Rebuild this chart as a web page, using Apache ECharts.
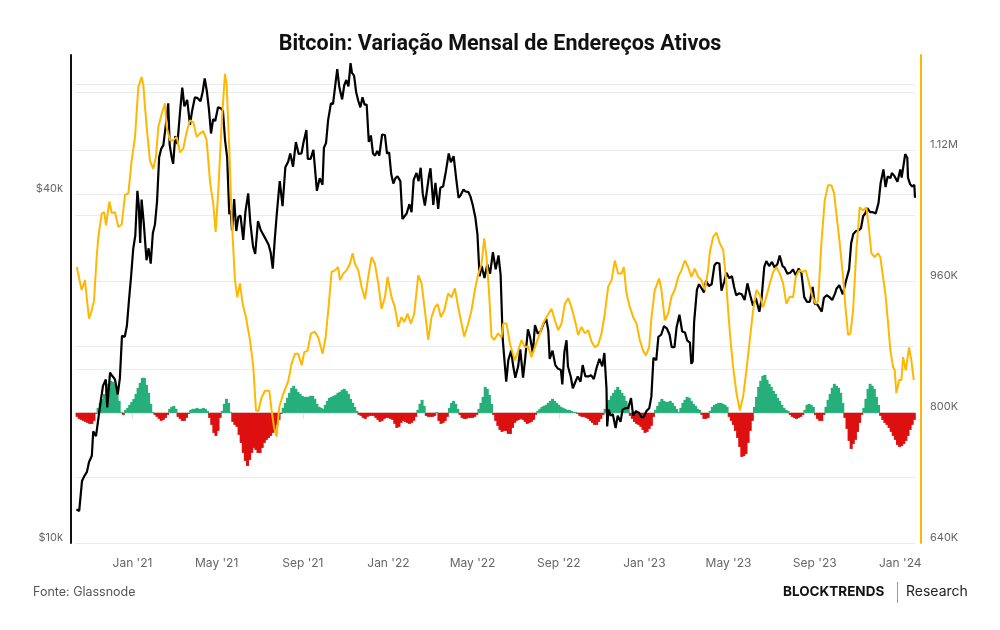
<!DOCTYPE html>
<html>
<head>
<meta charset="utf-8">
<script src="https://cdn.jsdelivr.net/npm/echarts@6/dist/echarts.min.js"></script>
<style>
  html, body { margin: 0; background: #fff; }
  #chart-container { width: 1000px; height: 630px; }
</style>
</head>
<body>
<div id="chart-container"></div>
<script>
// BTC price (USD), [date, price]
var btcPrice = [
  ['2020-10-13',11430],['2020-10-17',11360],['2020-10-21',12800],['2020-10-24',13030],['2020-10-28',13270],
  ['2020-10-31',13800],['2020-11-04',14150],['2020-11-06',15590],['2020-11-10',15300],['2020-11-13',16300],
  ['2020-11-17',17700],['2020-11-20',18700],['2020-11-24',19160],['2020-11-26',17150],['2020-11-30',19700],
  ['2020-12-03',19450],['2020-12-07',19170],['2020-12-11',18060],['2020-12-14',19270],['2020-12-17',22800],
  ['2020-12-21',22720],['2020-12-24',23730],['2020-12-27',26280],['2020-12-30',28900],['2021-01-02',32200],
  ['2021-01-05',33990],['2021-01-08',40600],['2021-01-10',38300],['2021-01-12',33000],['2021-01-14',39200],
  ['2021-01-17',35800],['2021-01-21',30800],['2021-01-24',32300],['2021-01-27',30400],['2021-01-30',34300],
  ['2021-02-02',35500],['2021-02-05',38900],['2021-02-08',46400],['2021-02-11',48000],['2021-02-14',48700],
  ['2021-02-17',52100],['2021-02-21',57500],['2021-02-23',48800],['2021-02-26',46300],['2021-02-28',45200],
  ['2021-03-03',50500],['2021-03-06',48900],['2021-03-10',55900],['2021-03-13',61200],['2021-03-16',56800],
  ['2021-03-20',58300],['2021-03-24',52800],['2021-03-27',55800],['2021-03-31',58900],['2021-04-04',58700],
  ['2021-04-08',58000],['2021-04-11',60100],['2021-04-14',63500],['2021-04-17',60400],['2021-04-20',56200],
  ['2021-04-23',51000],['2021-04-26',54000],['2021-04-29',53600],['2021-05-03',56600],['2021-05-07',56400],
  ['2021-05-10',55800],['2021-05-13',49700],['2021-05-16',46400],['2021-05-19',37000],['2021-05-21',37500],
  ['2021-05-23',34700],['2021-05-26',39300],['2021-05-29',34600],['2021-06-01',36600],['2021-06-04',36800],
  ['2021-06-08',33400],['2021-06-11',37300],['2021-06-15',40200],['2021-06-18',35800],['2021-06-22',32500],
  ['2021-06-25',31600],['2021-06-29',36000],['2021-07-03',34700],['2021-07-06',34200],['2021-07-10',33500],
  ['2021-07-14',32800],['2021-07-17',31800],['2021-07-20',29800],['2021-07-23',33600],['2021-07-26',37300],
  ['2021-07-30',42200],['2021-08-03',38200],['2021-08-07',44600],['2021-08-11',45600],['2021-08-14',47100],
  ['2021-08-18',44700],['2021-08-22',49300],['2021-08-26',47000],['2021-08-30',47100],['2021-09-02',49300],
  ['2021-09-06',51700],['2021-09-08',46100],['2021-09-12',46100],['2021-09-16',47800],['2021-09-21',40600],
  ['2021-09-25',42700],['2021-09-29',41600],['2021-10-01',48200],['2021-10-04',49100],['2021-10-07',53800],
  ['2021-10-11',57500],['2021-10-14',57400],['2021-10-17',61500],['2021-10-20',65900],['2021-10-23',61300],
  ['2021-10-27',58400],['2021-10-30',61800],['2021-11-02',63100],['2021-11-05',61500],['2021-11-08',67500],
  ['2021-11-10',64900],['2021-11-13',64200],['2021-11-16',60100],['2021-11-19',58100],['2021-11-22',56600],
  ['2021-11-25',58900],['2021-11-28',57200],['2021-12-01',57200],['2021-12-04',49300],['2021-12-07',50600],
  ['2021-12-10',47100],['2021-12-13',46700],['2021-12-16',47600],['2021-12-19',46700],['2021-12-23',50800],
  ['2021-12-27',50700],['2021-12-30',47100],['2022-01-02',47300],['2022-01-05',43400],['2022-01-08',41800],
  ['2022-01-11',42700],['2022-01-14',43000],['2022-01-18',42200],['2022-01-21',36300],['2022-01-24',36700],
  ['2022-01-27',37100],['2022-01-31',38500],['2022-02-03',37300],['2022-02-06',42400],['2022-02-10',43600],
  ['2022-02-13',42200],['2022-02-16',44500],['2022-02-19',40100],['2022-02-22',38300],['2022-02-24',38300],
  ['2022-02-28',43200],['2022-03-02',44400],['2022-03-06',38400],['2022-03-09',41900],['2022-03-13',37800],
  ['2022-03-16',41100],['2022-03-20',41300],['2022-03-24',43900],['2022-03-28',47100],['2022-03-31',45500],
  ['2022-04-04',46600],['2022-04-08',42300],['2022-04-11',39500],['2022-04-14',39900],['2022-04-18',40800],
  ['2022-04-21',40500],['2022-04-25',40400],['2022-04-28',39700],['2022-05-01',38500],['2022-05-05',36500],
  ['2022-05-08',34100],['2022-05-11',28900],['2022-05-14',30100],['2022-05-18',28700],['2022-05-22',30300],
  ['2022-05-26',29200],['2022-05-30',31800],['2022-06-03',29700],['2022-06-07',31400],['2022-06-10',29100],
  ['2022-06-13',22500],['2022-06-15',22600],['2022-06-18',19000],['2022-06-21',20700],['2022-06-25',21500],
  ['2022-06-28',20200],['2022-07-01',19300],['2022-07-05',20200],['2022-07-08',21600],['2022-07-12',19300],
  ['2022-07-15',20800],['2022-07-19',23400],['2022-07-22',22700],['2022-07-26',21300],['2022-07-29',23800],
  ['2022-08-02',23000],['2022-08-06',23200],['2022-08-10',23900],['2022-08-14',24400],['2022-08-17',23300],
  ['2022-08-19',20800],['2022-08-23',21500],['2022-08-27',20300],['2022-08-31',20000],['2022-09-04',19900],
  ['2022-09-06',18800],['2022-09-09',21400],['2022-09-12',22400],['2022-09-14',20200],['2022-09-18',19400],
  ['2022-09-21',18500],['2022-09-24',18900],['2022-09-28',19400],['2022-10-02',19000],['2022-10-05',20300],
  ['2022-10-09',19400],['2022-10-13',19400],['2022-10-17',19500],['2022-10-21',19200],['2022-10-25',20100],
  ['2022-10-29',20800],['2022-11-02',20200],['2022-11-05',21300],['2022-11-08',18500],['2022-11-09',15900],
  ['2022-11-11',17000],['2022-11-14',16600],['2022-11-17',16700],['2022-11-21',15800],['2022-11-24',16600],
  ['2022-11-28',16200],['2022-12-01',17000],['2022-12-05',17100],['2022-12-09',17100],['2022-12-13',17800],
  ['2022-12-16',16600],['2022-12-20',16900],['2022-12-24',16800],['2022-12-28',16500],['2022-12-31',16500],
  ['2023-01-04',16900],['2023-01-08',17100],['2023-01-11',17900],['2023-01-14',20900],['2023-01-18',20700],
  ['2023-01-21',22700],['2023-01-25',22900],['2023-01-29',23700],['2023-02-02',23500],['2023-02-06',22900],
  ['2023-02-09',21800],['2023-02-13',21800],['2023-02-16',23600],['2023-02-20',24800],['2023-02-24',23200],
  ['2023-02-28',23100],['2023-03-03',22400],['2023-03-07',22200],['2023-03-09',20400],['2023-03-11',20600],
  ['2023-03-13',24100],['2023-03-17',27400],['2023-03-20',28000],['2023-03-24',27500],['2023-03-27',27100],
  ['2023-03-30',28400],['2023-04-03',27800],['2023-04-07',28000],['2023-04-11',30200],['2023-04-14',30500],
  ['2023-04-18',30400],['2023-04-21',27300],['2023-04-25',28300],['2023-04-28',29300],['2023-05-02',28700],
  ['2023-05-06',28900],['2023-05-09',27700],['2023-05-12',26800],['2023-05-16',27000],['2023-05-20',26900],
  ['2023-05-24',26300],['2023-05-28',28100],['2023-06-01',26800],['2023-06-05',25700],['2023-06-09',26500],
  ['2023-06-14',25100],['2023-06-17',26300],['2023-06-21',30000],['2023-06-24',30700],['2023-06-28',30100],
  ['2023-07-02',30600],['2023-07-06',29900],['2023-07-10',30400],['2023-07-13',31400],['2023-07-17',30100],
  ['2023-07-20',29900],['2023-07-24',29200],['2023-07-28',29300],['2023-08-01',29700],['2023-08-05',29000],
  ['2023-08-09',29800],['2023-08-13',29300],['2023-08-17',26600],['2023-08-21',26100],['2023-08-25',26100],
  ['2023-08-29',27700],['2023-09-01',25900],['2023-09-05',25800],['2023-09-11',25100],['2023-09-14',26500],
  ['2023-09-18',26800],['2023-09-22',26600],['2023-09-26',26300],['2023-09-30',27000],['2023-10-02',27500],
  ['2023-10-06',27900],['2023-10-11',26900],['2023-10-16',28500],['2023-10-20',29700],['2023-10-23',33000],
  ['2023-10-26',34200],['2023-10-30',34600],['2023-11-03',34700],['2023-11-06',35000],['2023-11-09',36700],
  ['2023-11-12',37100],['2023-11-15',37900],['2023-11-19',37300],['2023-11-23',37300],['2023-11-27',37100],
  ['2023-12-01',38700],['2023-12-04',41900],['2023-12-08',44200],['2023-12-11',41200],['2023-12-14',43000],
  ['2023-12-18',42700],['2023-12-20',43600],['2023-12-24',43000],['2023-12-28',42100],['2024-01-01',44200],
  ['2024-01-03',42800],['2024-01-08',47000],['2024-01-11',46300],['2024-01-12',42800],['2024-01-15',41700],
  ['2024-01-18',41300],['2024-01-21',41600],['2024-01-22',39500]
];

// active addresses (thousands), [days since 2021-01-01, value]
var activeAddr = [
  [-79.6,977],[-77.2,968],[-72.5,949],[-67.7,961],[-65.3,940],[-62.0,914],[-58.2,924],[-54.9,936],[-51.1,989],
  [-48.7,1014],[-44.0,1042],[-40.2,1044],[-37.8,1028],[-33.0,1057],[-29.7,1043],[-24.9,1044],[-20.2,1026],
  [-15.4,1029],[-10.7,1065],[-5.9,1067],[-1.2,1107],[3.6,1136],[8.3,1197],[13.1,1209],[15.4,1200],[17.8,1173],
  [21.1,1140],[24.9,1107],[29.7,1097],[33.5,1112],[36.8,1148],[41.6,1164],[46.3,1177],[48.7,1148],[53.5,1132],
  [58.2,1132],[63.0,1136],[67.7,1117],[72.5,1122],[77.2,1142],[82.0,1156],[86.7,1154],[91.5,1136],[96.2,1140],
  [101.0,1143],[105.7,1132],[110.5,1082],[115.2,1054],[118.6,1020],[122.4,1071],[127.1,1152],[131.9,1213],
  [134.3,1200],[138.1,1120],[141.4,1038],[146.1,961],[149.5,940],[153.3,957],[157.1,932],[161.8,916],[167.5,888],
  [172.3,855],[176.1,802],[179.4,801],[184.2,818],[188.9,826],[195.1,826],[198.4,802],[201.7,782],[205.5,770],
  [209.3,806],[215.0,822],[222.2,838],[226.9,859],[231.7,871],[236.4,871],[241.2,857],[245.0,873],[249.7,875],
  [254.5,896],[260.2,898],[264.9,891],[271.1,871],[275.4,891],[279.2,924],[283.9,971],[288.7,973],[293.4,977],
  [295.8,961],[300.6,969],[305.3,973],[310.1,981],[313.9,994],[317.2,981],[322.0,973],[326.7,953],[331.5,938],
  [336.2,965],[341.0,989],[345.7,981],[350.5,957],[355.2,926],[360.0,940],[363.8,965],[369.5,940],[374.2,928],
  [379.0,904],[383.7,916],[387.5,910],[392.3,920],[397.0,908],[401.8,920],[407.5,967],[412.3,957],[417.0,924],
  [421.8,888],[426.5,916],[431.3,928],[435.1,932],[439.8,916],[444.6,924],[450.3,945],[455.0,940],[459.8,951],
  [464.5,928],[469.3,908],[473.1,892],[478.8,908],[483.5,924],[488.3,949],[492.1,965],[497.8,981],[501.6,1012],
  [504.9,989],[508.3,949],[512.0,892],[515.8,888],[521.5,896],[526.3,891],[528.7,908],[533.5,908],[538.2,884],
  [545.3,863],[550.1,875],[554.8,888],[559.6,879],[564.3,880],[569.1,867],[573.8,879],[581.0,896],[585.7,908],
  [590.5,916],[597.6,926],[602.4,912],[607.1,900],[611.9,908],[616.6,932],[621.4,939],[626.1,928],[630.9,912],
  [635.6,894],[640.4,904],[645.1,896],[649.9,900],[654.6,886],[659.4,879],[664.1,882],[668.9,896],[673.6,920],
  [678.4,953],[683.2,961],[687.9,985],[692.6,969],[697.4,969],[700.7,977],[704.5,945],[709.3,928],[714.0,916],
  [718.8,908],[723.5,888],[728.3,875],[732.1,869],[736.8,879],[740.2,916],[744.9,949],[751.1,963],[754.4,949],
  [759.2,912],[763.9,920],[768.7,941],[773.4,949],[778.2,965],[782.9,973],[787.7,985],[792.4,977],[797.2,965],
  [801.9,975],[806.7,965],[811.4,961],[816.2,949],[820.9,973],[823.4,995],[828.1,1014],[832.9,1019],[837.6,1006],
  [842.4,998],[846.2,965],[849.5,924],[852.8,888],[856.6,855],[861.4,823],[866.1,802],[868.5,801],[870.9,819],
  [875.6,851],[880.4,888],[885.1,924],[889.9,949],[894.6,943],[899.4,928],[904.1,941],[908.9,957],[913.6,971],
  [918.4,977],[923.1,969],[927.9,957],[932.6,932],[937.4,941],[942.1,940],[945.9,965],[950.7,973],[955.5,971],
  [960.2,973],[965.0,957],[969.7,941],[974.5,932],[977.8,936],[982.5,1006],[987.3,1059],[992.0,1077],[996.8,1077],
  [1000.6,1067],[1003.9,1042],[1008.7,1006],[1013.4,965],[1017.2,924],[1020.6,894],[1023.9,896],[1027.7,924],
  [1032.4,998],[1037.2,1050],[1041.9,1046],[1046.7,1050],[1050.5,1022],[1053.8,994],[1058.6,989],[1063.3,994],
  [1066.6,989],[1070.4,965],[1074.2,941],[1077.6,908],[1080.9,875],[1084.7,855],[1087.1,851],[1089.4,823],
  [1093.3,839],[1096.6,839],[1099.0,867],[1102.8,851],[1107.5,879],[1110.8,863],[1114.2,839]
];

// monthly change of active addresses (thousands), one bar every 3 days from barStart
var barStart = '2020-10-14';
var barStepDays = 3;
var monthlyChange = [
  -4,-6,-7,-8,-9,-10,-11,-11,-8,-1,  5,10,14,19,24,29,32,31,29,25,
  12,1,-2,3,5,8,11,14,19,25,  30,35,35,28,20,9,1,-2,-4,-6,
  -8,-7,-5,-2,4,6,7,4,-4,-6,  -8,-8,-5,-1,3,4,4,5,4,4,
  5,4,2,-5,-12,-20,-23,-18,-5,2,  9,14,10,1,-9,-12,-14,-22,-30,-40,
  -48,-53,-47,-40,-35,-37,-40,-40,-35,-30,  -27,-25,-23,-20,-17,-12,-7,-1,5,10,
  15,20,25,27,24,21,19,17,16,16,  16,17,17,14,9,6,5,4,8,12,
  15,16,17,18,20,21,23,24,22,19,  14,10,6,2,-2,-3,-5,-6,-4,-3,
  -3,-3,-5,-7,-9,-8,-6,-5,-5,-6,  -7,-11,-15,-14,-10,-8,-9,-10,-11,-10,
  -8,-4,3,9,13,7,-3,-4,-4,-4,  -3,1,-8,-11,-10,-8,-4,5,10,12,
  9,4,-2,-5,-6,-6,-5,-5,-5,-4,  -2,4,10,16,26,24,18,9,-2,-8,
  -13,-17,-19,-18,-18,-21,-21,-15,-10,-8,  -7,-6,-7,-9,-11,-10,-9,-7,-2,2,
  4,6,7,8,10,12,14,12,10,8,  6,5,4,3,3,2,1,1,-1,-3,
  -4,-4,-5,-6,-8,-10,-12,-12,-9,-6,  -2,4,8,13,17,20,23,26,23,20,
  17,12,8,-3,-6,-9,-11,-12,-14,-17,  -20,-19,-16,-13,-4,3,7,11,14,12,
  11,11,12,10,7,4,1,5,10,13,  16,15,12,9,7,4,3,-2,-6,-6,
  -5,2,6,8,9,10,10,9,8,6,  -4,-8,-12,-18,-25,-34,-44,-43,-41,-30,
  -18,-8,6,16,26,32,37,38,33,29,  26,22,19,15,12,8,5,3,2,-2,
  -4,-5,-6,-5,-4,-2,3,8,9,8,  6,-2,-6,-8,-8,-2,6,13,19,25,
  29,27,25,20,10,-5,-16,-28,-36,-31,  -27,-19,-10,-2,5,14,24,29,27,24,
  16,8,-3,-7,-10,-12,-15,-19,-23,-27,  -32,-34,-33,-31,-28,-23,-17,-12,-7
];

var xTicks = ['2021-01-01','2021-05-01','2021-09-01','2022-01-01','2022-05-01','2022-09-01',
  '2023-01-01','2023-05-01','2023-09-01','2024-01-01'];
var monthNames = ['Jan','Feb','Mar','Apr','May','Jun','Jul','Aug','Sep','Oct','Nov','Dec'];
var priceGrid = [10000, 20000, 40000, 60000];
var priceLabels = [10000, 40000];
var addrGrid = [640000, 720000, 800000, 880000, 960000, 1040000, 1120000, 1200000];
var addrLabels = [640000, 800000, 960000, 1120000];

var DAY = 86400000;
function parseDay(s) {
  var p = s.split('-');
  return Date.UTC(+p[0], +p[1] - 1, +p[2]);
}
var base = Date.UTC(2021, 0, 1);

var btcData = btcPrice.map(function (d) { return [parseDay(d[0]), d[1]]; });
var addrData = activeAddr.map(function (d) { return [base + d[0] * DAY, d[1] * 1000]; });
var barT0 = parseDay(barStart);
var barData = monthlyChange.map(function (v, i) { return [barT0 + i * barStepDays * DAY, v]; });

var dom = document.getElementById('chart-container');
var myChart = echarts.init(dom, null, { renderer: 'canvas' });

var labelFont = 'Inter, Roboto, sans-serif';

var option = {
  animation: false,
  backgroundColor: '#fff',
  title: {
    text: 'Bitcoin: Variação Mensal de Endereços Ativos',
    left: 'center',
    top: 29,
    textStyle: { fontFamily: 'Roboto', fontWeight: 'bold', fontSize: 21.5, color: '#111' }
  },
  grid: { left: 75, right: 85, top: 55, bottom: 87 },
  xAxis: {
    // timestamps on a value axis so the Jan/May/Sep ticks can be placed exactly
    type: 'value',
    min: parseDay('2020-10-11'),
    max: parseDay('2024-01-22'),
    axisLine: { lineStyle: { color: '#e2e2e2', width: 1.5 } },
    axisTick: { show: true, length: 6, lineStyle: { color: '#e2e2e2' }, customValues: xTicks.map(parseDay) },
    axisLabel: {
      customValues: xTicks.map(parseDay),
      color: '#666', fontSize: 12, fontFamily: labelFont, margin: 14,
      formatter: function (v) {
        var dt = new Date(v);
        return monthNames[dt.getUTCMonth()] + " '" + String(dt.getUTCFullYear()).slice(2);
      }
    },
    splitLine: { show: false }
  },
  yAxis: [
    {
      type: 'log',
      logBase: 10,
      min: 10000,
      max: 69700,
      position: 'left',
      offset: 4,
      axisLine: { show: true, lineStyle: { color: '#111', width: 2 } },
      axisTick: { show: false, customValues: priceGrid },
      axisLabel: {
        customValues: priceLabels,
        color: '#666', fontSize: 11, fontFamily: labelFont, margin: 8, verticalAlign: 'bottom',
        formatter: function (v) { return '$' + Math.round(v / 1000) + 'k'; }
      },
      splitLine: { show: true, lineStyle: { color: '#ebebeb', width: 1 } }
    },
    {
      type: 'value',
      min: 640000,
      max: 1236000,
      position: 'right',
      offset: 6,
      axisLine: { show: true, lineStyle: { color: '#FFB703', width: 2 } },
      axisTick: { show: false, customValues: addrGrid },
      axisLabel: {
        customValues: addrLabels,
        color: '#666', fontSize: 11, fontFamily: labelFont, margin: 9, verticalAlign: 'bottom',
        formatter: function (v) {
          if (v >= 1000000) return (v / 1000000).toFixed(2) + 'M';
          return Math.round(v / 1000) + 'K';
        }
      },
      splitLine: { show: true, lineStyle: { color: '#ebebeb', width: 1 } }
    },
    {
      type: 'value',
      min: -130,
      max: 357.5,
      show: false,
      splitLine: { show: false }
    }
  ],
  series: [
    {
      name: 'Variação mensal',
      type: 'bar',
      yAxisIndex: 2,
      barWidth: 3,
      data: barData,
      itemStyle: {
        color: function (p) { return p.value[1] >= 0 ? '#26AF7B' : '#DD1010'; }
      },
      z: 1
    },
    {
      name: 'BTC',
      type: 'line',
      yAxisIndex: 0,
      showSymbol: false,
      data: btcData,
      lineStyle: { color: '#000', width: 2.2 },
      z: 3
    },
    {
      name: 'Endereços ativos',
      type: 'line',
      yAxisIndex: 1,
      showSymbol: false,
      data: addrData,
      lineStyle: { color: '#FFB703', width: 2 },
      z: 4
    }
  ],
  graphic: [
    { type: 'text', left: 33, top: 586, style: { text: 'Fonte: Glassnode', fill: '#555', font: '12.5px Inter, Roboto, sans-serif' } },
    { type: 'text', left: 783, top: 585, style: { text: 'BLOCKTRENDS', fill: '#111', font: 'bold 13.5px Inter, Roboto, sans-serif' } },
    { type: 'rect', left: 897, top: 582, shape: { width: 1, height: 21 }, style: { fill: '#999' } },
    { type: 'text', left: 906, top: 585, style: { text: 'Research', fill: '#222', font: '14px Inter, Roboto, sans-serif' } }
  ]
};

myChart.setOption(option);
window.addEventListener('resize', myChart.resize);
</script>
</body>
</html>
